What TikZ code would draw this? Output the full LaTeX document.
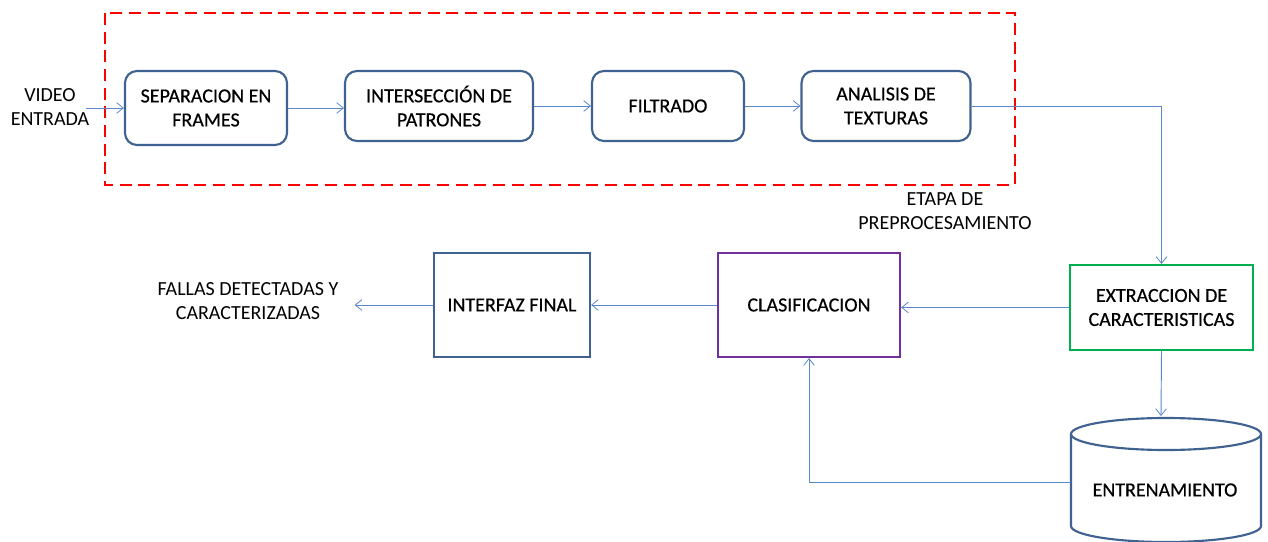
\documentclass[tikz,border=0pt]{standalone}
\usepackage{fontspec}
\setmainfont{Carlito}
\newfontfamily\heavyfont[FakeBold=0.5]{Carlito}
\usetikzlibrary{arrows.meta}
\definecolor{boxblue}{HTML}{3F6290}
\definecolor{linkblue}{HTML}{5B87C8}
\definecolor{dgreen}{HTML}{00B050}
\definecolor{dpurple}{HTML}{7030A0}
\tikzset{
  txt/.style={font=\fontsize{15}{18}\selectfont, align=center, text=black},
  btxt/.style={font=\heavyfont\fontsize{15}{18}\selectfont, align=center, text=black},
  rbox/.style={btxt, draw=boxblue, line width=1.6pt, rounded corners=9pt, fill=white},
  sbox/.style={btxt, draw=boxblue, line width=1.6pt, fill=white},
  arr/.style={draw=linkblue, line width=0.7pt, -{Straight Barb[length=5pt,width=8pt,line width=0.6pt]}},
}
\begin{document}
\begin{tikzpicture}[x=0.75pt,y=-0.75pt]
\useasboundingbox (0,0) rectangle (1268,542);
\clip (0,0) rectangle (1268,542);
% preprocessing frame
\draw[red, line width=2.2pt, dash pattern=on 9pt off 5pt] (105,13) rectangle (1015,185);
\node[txt] (etapa) at (945,211) {ETAPA DE\\PREPROCESAMIENTO};
% top row
\node[txt, inner sep=1pt] (video) at (50,107) {VIDEO\\ENTRADA};
\coordinate (vin) at (86,108);
\node[rbox, minimum width=162*0.75pt, minimum height=74*0.75pt] (b1) at (206,108) {SEPARACION EN\\FRAMES};
\node[rbox, minimum width=188*0.75pt, minimum height=70*0.75pt] (b2) at (439,106) {INTERSECCIÓN DE\\PATRONES};
\node[rbox, minimum width=152*0.75pt, minimum height=70*0.75pt] (b3) at (668,106) {FILTRADO};
\node[rbox, minimum width=169*0.75pt, minimum height=70*0.75pt] (b4) at (886,106) {ANALISIS DE\\TEXTURAS};
% lower row
\node[sbox, draw=dgreen, minimum width=183*0.75pt, minimum height=85*0.75pt] (ext) at (1161.5,307.5) {EXTRACCION DE\\CARACTERISTICAS};
\node[sbox, draw=dpurple, minimum width=182*0.75pt, minimum height=104*0.75pt] (cla) at (809,305) {CLASIFICACION};
\node[sbox, minimum width=156*0.75pt, minimum height=104*0.75pt] (int) at (512,305) {INTERFAZ FINAL};
\node[txt, inner xsep=12pt] (fallas) at (248,301) {FALLAS DETECTADAS Y\\CARACTERIZADAS};
% cylinder
\draw[boxblue, line width=1.6pt, fill=white] (1071,434) -- (1071,526) arc[start angle=180, end angle=360, x radius=71.25pt, y radius=12pt] -- (1261,434);
\draw[boxblue, line width=1.6pt, fill=white] (1166,434) ellipse [x radius=71.25pt, y radius=12pt];
\node[btxt] (entr) at (1165,490) {ENTRENAMIENTO};
\coordinate (cyltop) at (1161,416);
\coordinate (cylleft) at (1071,482);
% connectors
\draw[arr] (vin) -- (vin -| b1.west);
\draw[arr] (b1.east) -- (b1.east -| b2.west);
\draw[arr] (b2.east) -- (b2.east -| b3.west);
\draw[arr] (b3.east) -- (b3.east -| b4.west);
\draw[arr] (b4.east) -| (ext.north);
\draw[arr] (ext.west) -- (ext.west -| cla.east);
\draw[arr] (cla.west) -- (cla.west -| int.east);
\draw[arr] (int.west) -- (int.west -| fallas.east);
\draw[arr] (ext.south) -- (cyltop);
\draw[arr] (cylleft) -| (cla.south);
\end{tikzpicture}
\end{document}
